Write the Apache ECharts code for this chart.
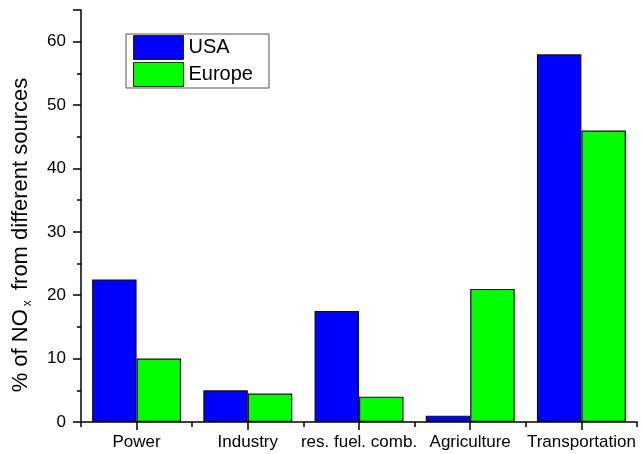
<!DOCTYPE html>
<html>
<head>
<meta charset="utf-8">
<style>
  html, body { margin: 0; padding: 0; background: #fff; }
  #chart { width: 642px; height: 454px; }
</style>
<script src="https://cdn.jsdelivr.net/npm/echarts@6/dist/echarts.min.js"></script>
</head>
<body>
<div id="chart"></div>
<script>
// NOx emission shares by source sector
const categories = ['Power', 'Industry', 'res. fuel. comb.', 'Agriculture', 'Transportation'];
const usaValues = [22.5, 5, 17.5, 1, 58];
const europeValues = [10, 4.5, 4, 21, 46];
const seriesNames = ['USA', 'Europe'];
const yTicks = { min: 0, max: 65, interval: 10 };

const FONT = '"Liberation Sans", Arial, Helvetica, sans-serif';

const chart = echarts.init(document.getElementById('chart'), null, { renderer: 'canvas' });

chart.setOption({
  animation: false,
  backgroundColor: '#ffffff',
  textStyle: { fontFamily: FONT, color: '#000' },
  grid: { left: 78, right: 5, top: 10, bottom: 32, containLabel: false },
  legend: {
    orient: 'vertical',
    left: 126,
    top: 34,
    data: seriesNames,
    icon: 'rect',
    itemWidth: 50,
    itemHeight: 24,
    itemGap: 2,
    padding: [1, 16, 1, 7],
    borderColor: '#555',
    borderWidth: 1,
    itemStyle: { borderColor: '#222', borderWidth: 1 },
    textStyle: { fontFamily: FONT, fontSize: 20, color: '#000' }
  },
  xAxis: [
    {
      type: 'category',
      data: categories,
      boundaryGap: true,
      axisLine: { show: true, lineStyle: { color: '#000', width: 1.5 } },
      axisTick: { show: true, alignWithLabel: true, length: 8, lineStyle: { color: '#000', width: 1.5 } },
      axisLabel: { fontFamily: FONT, fontSize: 17, color: '#000', margin: 12, interval: 0 },
      splitLine: { show: false }
    },
    {
      // short ticks on the category boundaries
      type: 'category',
      data: categories,
      position: 'bottom',
      boundaryGap: true,
      axisLine: { show: false },
      axisTick: { show: true, alignWithLabel: false, length: 5, lineStyle: { color: '#000', width: 1.5 } },
      axisLabel: { show: false },
      splitLine: { show: false }
    }
  ],
  yAxis: {
    type: 'value',
    min: yTicks.min,
    max: yTicks.max,
    interval: yTicks.interval,
    name: '% of NO{sub|x} from different sources',
    nameLocation: 'middle',
    nameRotate: 90,
    nameGap: 47,
    nameTextStyle: {
      fontFamily: FONT,
      fontSize: 22,
      lineHeight: 26,
      color: '#000',
      padding: [0, 38, 0, 0],
      rich: {
        sub: { fontFamily: FONT, fontSize: 12, lineHeight: 12, verticalAlign: 'bottom', color: '#000', padding: [0, 4, 0, 3] }
      }
    },
    axisLine: { show: true, lineStyle: { color: '#000', width: 1.5 } },
    axisTick: { show: true, length: 8, lineStyle: { color: '#000', width: 1.5 } },
    minorTick: { show: true, splitNumber: 2, length: 4, lineStyle: { color: '#000', width: 1.5 } },
    axisLabel: { fontFamily: FONT, fontSize: 17, color: '#000', margin: 15, showMaxLabel: false },
    splitLine: { show: false }
  },
  series: [
    {
      name: seriesNames[0],
      type: 'bar',
      data: usaValues,
      barGap: '0%',
      barCategoryGap: '20%',
      itemStyle: { color: '#0000ff', borderColor: '#111', borderWidth: 1.2 }
    },
    {
      name: seriesNames[1],
      type: 'bar',
      data: europeValues,
      barGap: '0%',
      barCategoryGap: '20%',
      itemStyle: { color: '#00ff00', borderColor: '#111', borderWidth: 1.2 }
    }
  ]
});
</script>
</body>
</html>
